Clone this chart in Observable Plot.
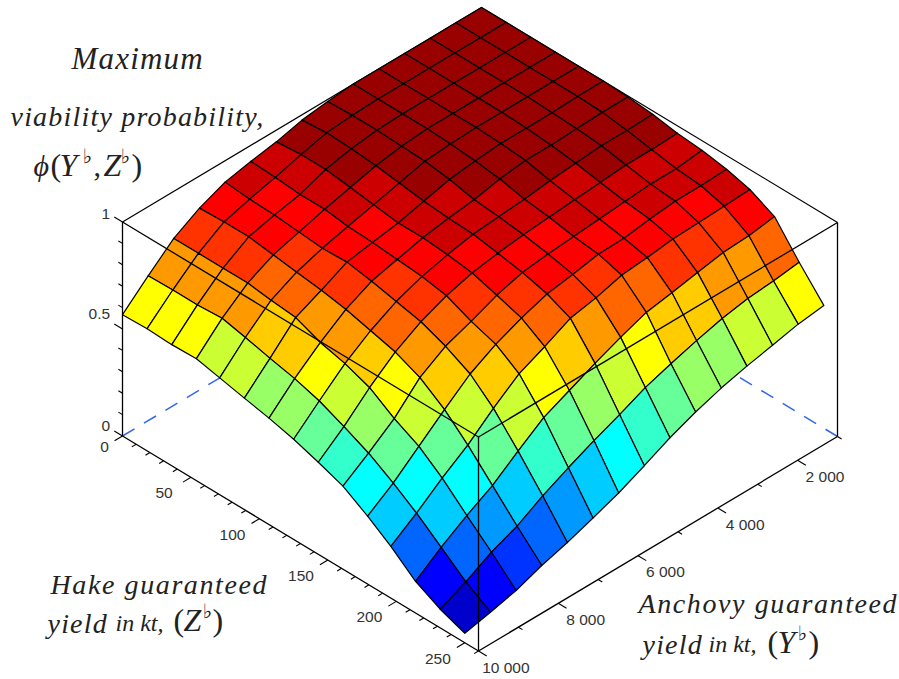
<!DOCTYPE html>
<html>
<head>
<meta charset="utf-8">
<style>
html,body{margin:0;padding:0;background:#fff;overflow:hidden}
svg{display:block}
.cm text{letter-spacing:1.2px}
.cmw text{letter-spacing:1.6px}
</style>
<script src="https://cdn.jsdelivr.net/npm/d3@7"></script>
<script src="https://cdn.jsdelivr.net/npm/@observablehq/plot@0.6"></script>
</head>
<body>
<div id="chart"></div>
<script>
// Hake guaranteed yield (kt) at each grid line
const hakeGrid = [0,18,36,54,71,89,107,125,143,161,179,196,214,232,250];
// Anchovy guaranteed yield (kt) at each grid line
const anchovyGrid = [1000,1643,2286,2929,3571,4214,4857,5500,6143,6786,7429,8071,8714,9357,10000];

// Maximum viability probability; one row per anchovy grid value, one column per hake grid value
const phi = [
[1,1,1,1,1,1,.995,.984,.965,.955,.936,.907,.85,.706,.574],
[1,1,1,1,1,1,.995,.98,.96,.94,.93,.90,.832,.69,.558],
[1,1,1,1,1,.995,.99,.98,.96,.94,.93,.895,.825,.68,.531],
[1,1,1,1,1,.995,.985,.97,.95,.93,.917,.89,.803,.658,.505],
[1,1,1,1,1,.995,.985,.96,.94,.92,.90,.875,.78,.626,.474],
[1,1,1,1,.995,.985,.97,.945,.93,.91,.897,.864,.76,.59,.434],
[.99,.995,.995,.99,.985,.97,.945,.935,.92,.90,.874,.83,.715,.55,.385],
[.975,.985,.98,.97,.955,.94,.93,.925,.905,.885,.854,.806,.665,.495,.326],
[.945,.955,.955,.94,.925,.91,.91,.90,.885,.85,.813,.745,.61,.445,.27],
[.925,.92,.91,.91,.895,.89,.88,.87,.85,.80,.762,.69,.555,.39,.225],
[.90,.89,.885,.875,.865,.87,.85,.825,.80,.755,.695,.60,.47,.33,.182],
[.85,.855,.855,.84,.825,.81,.79,.76,.73,.68,.60,.50,.38,.26,.146],
[.78,.78,.78,.78,.765,.754,.707,.678,.635,.56,.50,.417,.312,.21,.101],
[.677,.68,.68,.687,.663,.635,.61,.575,.525,.47,.40,.325,.235,.143,.071],
[.567,.571,.566,.570,.546,.521,.497,.468,.43,.388,.317,.242,.148,.087,.044]
];

// Colour level of each facet
const facetLevel = [
[18,18,18,18,18,18,18,18,17,17,17,16,14,11],
[18,18,18,18,18,18,18,18,17,17,16,15,13,10],
[18,18,18,18,18,18,18,18,17,17,16,15,13,10],
[18,18,18,18,18,18,18,17,17,16,16,15,12,9],
[18,18,18,18,18,18,18,17,17,16,16,14,12,9],
[18,18,18,18,18,18,17,17,16,16,15,14,11,8],
[18,18,18,18,18,17,17,17,16,16,15,13,10,7],
[18,18,18,17,17,17,17,16,16,15,14,12,9,6],
[17,17,17,17,16,16,16,16,15,14,13,11,8,5],
[17,16,16,16,16,16,15,15,14,13,12,10,7,4],
[16,16,16,15,15,15,14,14,13,12,10,8,5,3],
[15,15,15,14,14,13,13,12,11,10,8,6,4,2],
[13,13,13,13,12,12,11,10,9,8,6,5,3,1],
[11,11,11,10,10,9,9,8,7,6,5,3,1,0]
];
const levelColors = ["#0000cc","#0000ff","#0033ff","#0066ff","#0099ff","#00ccff","#00ffff","#33ffcc","#66ff99","#99ff66","#ccff33","#ffff00","#ffcc00","#ff9900","#ff6600","#ff3300","#ff0000","#cc0000","#990000"];

const hakeRange = [0,260];
const anchovyRange = [1000,10000];
const hakeMajor = [50,100,150,200,250];
const hakeMajorLabels = ["50","100","150","200","250"];
const hakeOrigin = [0];
const hakeMinor = [10,20,30,40,60,70,80,90,110,120,130,140,160,170,180,190,210,220,230,240,260];
const anchovyMajor = [2000,4000,6000,8000,10000];
const anchovyMajorLabels = ["2 000","4 000","6 000","8 000","10 000"];
const anchovyMinor = [1000,3000,5000,7000,9000];
const phiMajor = [0,0.5,1];
const phiMinor = [0.1,0.2,0.3,0.4,0.6,0.7,0.8,0.9];

// Oblique projection of the 3-D scene on the page
function project(h, y, z){
  const a = h/260, c = (10000-y)/9000;
  return [122 + 356*a + 359*c, 435.5 + 215*a - 214.5*c - 214*z];
}
const [hMin,hMax] = hakeRange, [yMin,yMax] = anchovyRange;
const seg = (p,q) => { const A = project(...p), B = project(...q); return {x1:A[0],y1:A[1],x2:B[0],y2:B[1]}; };
const linkMark = (segs,opts) => Plot.link(segs,{x1:"x1",y1:"y1",x2:"x2",y2:"y2",markerEnd:"none",...opts});

// Facets, drawn from back to front
const facets = [];
for (let q=0;q<14;q++) for (let p=0;p<14;p++) facets.push({p,q,level:facetLevel[q][p]});
facets.sort((a,b)=>(a.p+a.q)-(b.p+b.q));
const outline = [];
facets.forEach((f,id)=>{
  [[0,0],[1,0],[1,1],[0,1],[0,0]].forEach(([dp,dq])=>{
    const i=f.p+dp, j=f.q+dq;
    const [x,y]=project(hakeGrid[i],anchovyGrid[j],phi[j][i]);
    outline.push({id,x,y,level:f.level});
  });
});

const hiddenEdges = [
  seg([hMin,yMin,1],[hMin,yMax,1]),
  seg([hMin,yMin,1],[hMax,yMin,1])
];
const dashedEdges = [
  seg([hMin,yMax,0],[hMin,yMin,0]),
  seg([hMax,yMin,0],[hMin,yMin,0])
];
const frontEdges = [
  seg([hMin,yMax,1],[hMax,yMax,1]),
  seg([hMax,yMin,1],[hMax,yMax,1]),
  seg([hMin,yMax,0],[hMin,yMax,1]),
  seg([hMax,yMin,0],[hMax,yMin,1]),
  seg([hMax,yMax,0],[hMax,yMax,1]),
  seg([hMin,yMax,0],[hMax,yMax,0]),
  seg([hMax,yMin,0],[hMax,yMax,0])
];
const ticks = [
  ...[...hakeOrigin,...hakeMajor].map(h=>seg([h,yMax,0],[h,yMax+200,0])),
  ...hakeMinor.map(h=>seg([h,yMax,0],[h,yMax+110,0])),
  ...anchovyMajor.map(y=>seg([hMax,y,0],[hMax+6,y,0])),
  ...anchovyMinor.map(y=>seg([hMax,y,0],[hMax+3,y,0])),
  ...phiMajor.map(z=>seg([hMin,yMax,z],[hMin-6,yMax,z])),
  ...phiMinor.map(z=>seg([hMin,yMax,z],[hMin-3,yMax,z]))
];
const hakeLabelPts = hakeMajor.map((h,i)=>{const [x,y]=project(h,yMax+675,0);return {x,y,t:hakeMajorLabels[i]};});
const hakeOriginPts = hakeOrigin.map(h=>{const [x,y]=project(h,yMax+450,0);return {x,y,t:String(h)};});
const anchovyLabelPts = anchovyMajor.map((v,i)=>{const [x,y]=project(hMax+20,v,0);return {x,y,t:anchovyMajorLabels[i]};});
const phiPt = z=>{const [x,y]=project(hMin-9,yMax,z);return {x,y,t:String(z)};};

const serif = "'Liberation Serif', serif";
const sans = "'Liberation Sans',sans-serif";
const tickStyle = {x:"x",y:"y",text:"t",fontFamily:sans,fontSize:15.5,fill:"#333"};
const note = (t,dx,dy,size,extra={}) => Plot.text([t],{
  text:d=>d, frameAnchor:"top-left", dx, dy, textAnchor:"start", lineAnchor:"bottom",
  fontFamily:serif, fontStyle:"italic", fontSize:size, fill:"#222", ...extra
});
const plain = {fontStyle:"normal"};
const flat = {fontFamily:"'DejaVu Sans', sans-serif", fontStyle:"normal", fill:"#111"};

const chart = Plot.plot({
  width:899, height:679, margin:0,
  x:{domain:[0,899],range:[0,899],axis:null},
  y:{domain:[0,679],range:[0,679],axis:null},
  color:{type:"ordinal",domain:d3.range(levelColors.length),range:levelColors},
  style:{background:"#fff"},
  marks:[
    linkMark(hiddenEdges,{stroke:"#000",strokeWidth:1.2}),
    linkMark(dashedEdges,{stroke:"#3366ee",strokeWidth:1.5,strokeDasharray:"14 11"}),
    Plot.line(outline,{x:"x",y:"y",z:"id",fill:"level",stroke:"#000",strokeWidth:1.2,strokeLinejoin:"round"}),
    linkMark(frontEdges,{stroke:"#000",strokeWidth:1.3}),
    linkMark(ticks,{stroke:"#000",strokeWidth:1.1}),
    Plot.text(hakeLabelPts,tickStyle),
    Plot.text(hakeOriginPts,tickStyle),
    Plot.text(anchovyLabelPts,tickStyle),
    Plot.text([phiPt(0)],{...tickStyle,textAnchor:"end",dy:-3}),
    Plot.text([phiPt(0.5)],{...tickStyle,textAnchor:"end",dy:-8}),
    Plot.text([phiPt(1)],{...tickStyle,textAnchor:"end",dy:-1}),
    note("Maximum",71,68,31,{className:"cm"}),
    note("viability probability,",10,125,28,{className:"cm"}),
    note("ϕ",33,175,30),
    note("(",50,175,32,plain),
    note("Y",59,175,32),
    note("♭",82,162,20,flat),
    note(",",93,175,30,plain),
    note("Z",103,175,32),
    note("♭",120,162,20,flat),
    note(")",131,175,32,plain),
    note("Hake guaranteed",50,593,28,{className:"cmw"}),
    note("yield",47,632,28,{className:"cm"}),
    note("in kt,",115,630,24),
    note("(",173,630,32,plain),
    note("Z",183,630,32),
    note("♭",202,617,20,flat),
    note(")",212,630,32,plain),
    note("Anchovy guaranteed",638,612,28,{className:"cmw"}),
    note("yield",642,653,28,{className:"cm"}),
    note("in kt,",708,651,24),
    note("(",767,652,32,plain),
    note("Y",777,652,32),
    note("♭",797,639,20,flat),
    note(")",808,652,32,plain)
  ]
});
document.getElementById("chart").appendChild(chart);
</script>
</body>
</html>
